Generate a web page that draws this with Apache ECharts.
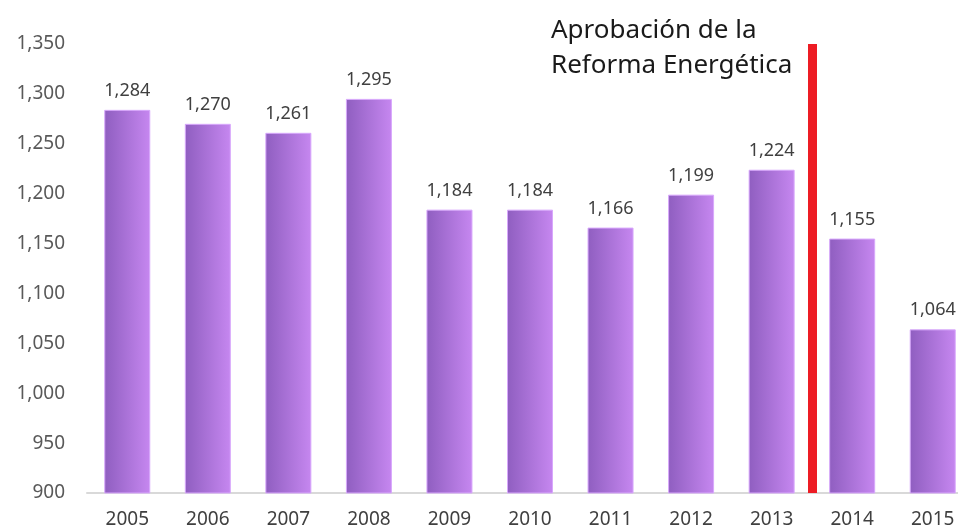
<!DOCTYPE html>
<html>
<head>
<meta charset="utf-8">
<script src="https://cdn.jsdelivr.net/npm/echarts@6/dist/echarts.min.js"></script>
<style>
  html, body { margin: 0; padding: 0; background: #fff; }
  #chart { width: 958px; height: 529px; }
</style>
</head>
<body>
<div id="chart"></div>
<script>
var years = ['2005', '2006', '2007', '2008', '2009', '2010', '2011', '2012', '2013', '2014', '2015'];
var values = [1284, 1270, 1261, 1295, 1184, 1184, 1166, 1199, 1224, 1155, 1064];
var reformaPos = [8.5]; // between 2013 and 2014
var annotation = 'Aprobación de la\nReforma Energética';

function withCommas(v) {
    return String(v).replace(/\B(?=(\d{3})+(?!\d))/g, ',');
}

var myChart = echarts.init(document.getElementById('chart'));
var option = {
    backgroundColor: '#ffffff',
    animation: false,
    title: {
        text: annotation,
        left: 546,
        top: 8,
        textStyle: {
            fontFamily: 'Noto Sans',
            fontWeight: 'normal',
            fontSize: 26,
            lineHeight: 35,
            color: '#1a1a1a'
        }
    },
    grid: {
        left: 87,
        right: -15,
        top: 44,
        bottom: 36,
        outerBoundsMode: 'none'
    },
    xAxis: [
        {
            type: 'category',
            data: years,
            axisLine: { lineStyle: { color: '#d9d9d9', width: 2 } },
            axisTick: { show: false },
            axisLabel: {
                color: '#404040',
                fontFamily: 'Noto Sans',
                fontSize: 19,
                margin: 17
            }
        },
        {
            type: 'value',
            min: -0.5,
            max: 10.5,
            show: false
        }
    ],
    yAxis: {
        type: 'value',
        min: 900,
        max: 1350,
        interval: 50,
        axisLine: { show: false },
        axisTick: { show: false },
        splitLine: { show: false },
        axisLabel: {
            color: '#595959',
            fontFamily: 'Noto Sans',
            fontSize: 19,
            margin: 22,
            formatter: function (v) { return withCommas(v); }
        }
    },
    series: [
        {
            type: 'bar',
            data: values,
            barWidth: 46,
            itemStyle: {
                borderColor: '#d8a8fc',
                borderWidth: 1,
                color: new echarts.graphic.LinearGradient(0, 0, 1, 0, [
                    { offset: 0, color: '#8f5ec0' },
                    { offset: 1, color: '#c687f0' }
                ])
            },
            label: {
                show: true,
                position: 'top',
                distance: 10,
                color: '#404040',
                fontFamily: 'Noto Sans',
                fontSize: 18,
                formatter: function (p) { return withCommas(p.value); }
            }
        },
        {
            type: 'line',
            xAxisIndex: 1,
            data: [],
            markLine: {
                symbol: 'none',
                silent: true,
                label: { show: false },
                lineStyle: { color: '#ed1c24', width: 9, type: 'solid' },
                data: reformaPos.map(function (x) { return { xAxis: x }; })
            }
        }
    ]
};
myChart.setOption(option);
</script>
</body>
</html>
